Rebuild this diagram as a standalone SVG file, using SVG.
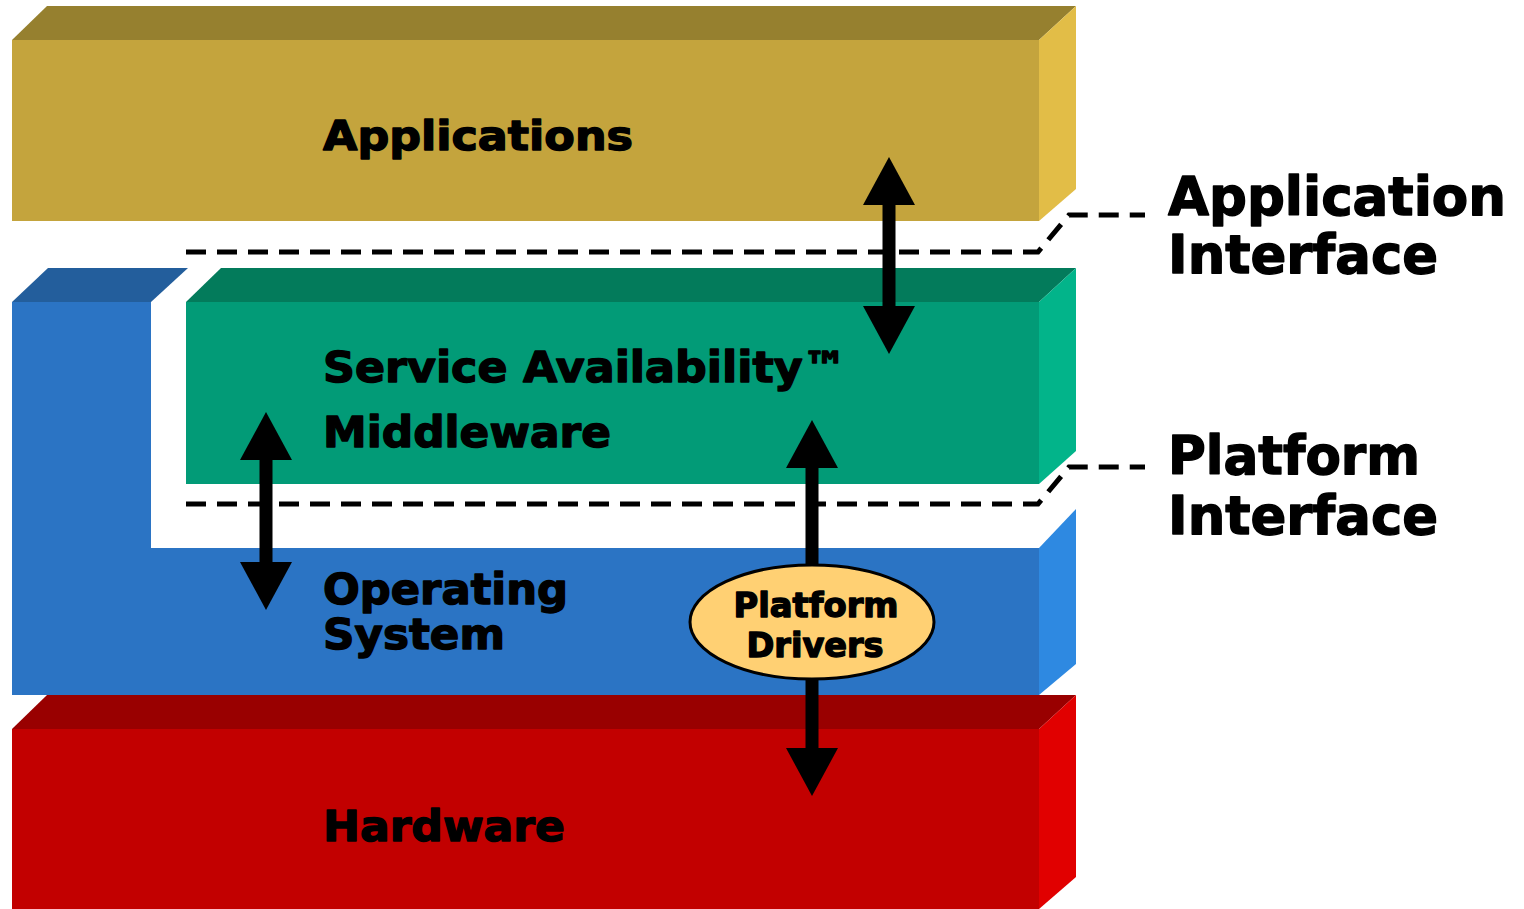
<svg xmlns="http://www.w3.org/2000/svg" width="1524" height="909" viewBox="0 0 1524 909">
<style>
.t{font-family:"DejaVu Sans","Liberation Sans",sans-serif;font-weight:bold;fill:#000;stroke:#000;stroke-width:1.4;stroke-linejoin:round}
.dash{fill:none;stroke:#000;stroke-width:5;stroke-dasharray:20 11}
.shaft{stroke:#000;stroke-width:13;fill:none}
</style>
<defs>
<marker id="ah" viewBox="0 0 48 52" refX="8" refY="26" markerWidth="48" markerHeight="52" orient="auto-start-reverse" markerUnits="userSpaceOnUse">
<path d="M0,0 L48,26 L0,52 Z" fill="#000"/>
</marker>
</defs>
<rect width="1524" height="909" fill="#fff"/>
<g id="applications">
<polygon points="12,40 47,6 1076,6 1039,40" fill="#96802F"/>
<polygon points="1039,40 1076,6 1076,189 1039,221" fill="#E2BD47"/>
<rect x="12" y="40" width="1027" height="181" fill="#C4A43D"/>
<text class="t" x="323" y="150" font-size="41" textLength="310" lengthAdjust="spacingAndGlyphs">Applications</text>
</g>
<g id="middleware">
<polygon points="186,302 221,268 1076,268 1039,302" fill="#037B5B"/>
<polygon points="1039,302 1076,268 1076,451 1039,484" fill="#02B48A"/>
<rect x="186" y="302" width="853" height="182" fill="#029B77"/>
<text class="t" x="323" y="382" font-size="43" textLength="524" lengthAdjust="spacingAndGlyphs">Service Availability™</text>
<text class="t" x="323" y="447" font-size="43" textLength="288" lengthAdjust="spacingAndGlyphs">Middleware</text>
</g>
<g id="os">
<polygon points="12,302 48,268 188,268 151,302" fill="#235E9C"/>
<polygon points="1039,548 1076,509 1076,664 1039,695" fill="#2E89E1"/>
<polygon points="12,302 151,302 151,548 1039,548 1039,695 12,695" fill="#2B74C4"/>
<text class="t" x="323" y="604" font-size="43" textLength="245" lengthAdjust="spacingAndGlyphs">Operating</text>
<text class="t" x="323" y="649" font-size="43" textLength="182" lengthAdjust="spacingAndGlyphs">System</text>
</g>
<g id="hardware">
<polygon points="12,729 47,695 1076,695 1039,729" fill="#990000"/>
<polygon points="1039,729 1076,695 1076,877 1039,909" fill="#E10000"/>
<rect x="12" y="729" width="1027" height="180" fill="#C20000"/>
<text class="t" x="323" y="841" font-size="43" textLength="242" lengthAdjust="spacingAndGlyphs">Hardware</text>
</g>
<g id="connectors">
<path class="dash" d="M186,252 H1038 L1069,215 H1145"/>
<path class="dash" d="M186,504 H1038 L1069,467 H1145"/>
<line class="shaft" x1="889" y1="197" x2="889" y2="314" marker-start="url(#ah)" marker-end="url(#ah)"/>
<line class="shaft" x1="266" y1="452" x2="266" y2="570" marker-start="url(#ah)" marker-end="url(#ah)"/>
<line class="shaft" x1="812" y1="460" x2="812" y2="600" marker-start="url(#ah)"/>
<line class="shaft" x1="812" y1="650" x2="812" y2="756" marker-end="url(#ah)"/>
</g>
<g id="platform-drivers">
<ellipse cx="812" cy="622" rx="122" ry="57" fill="#FFD073" stroke="#000" stroke-width="3"/>
<text class="t" x="816" y="617" font-size="33" text-anchor="middle" textLength="165" lengthAdjust="spacingAndGlyphs">Platform</text>
<text class="t" x="815" y="657" font-size="33" text-anchor="middle" textLength="137" lengthAdjust="spacingAndGlyphs">Drivers</text>
</g>
<g id="application-interface">
<text class="t" x="1168" y="215" font-size="53" textLength="338" lengthAdjust="spacingAndGlyphs">Application</text>
<text class="t" x="1168" y="273" font-size="53" textLength="270" lengthAdjust="spacingAndGlyphs">Interface</text>
</g>
<g id="platform-interface">
<text class="t" x="1168" y="474" font-size="53" textLength="252" lengthAdjust="spacingAndGlyphs">Platform</text>
<text class="t" x="1168" y="534" font-size="53" textLength="270" lengthAdjust="spacingAndGlyphs">Interface</text>
</g>
</svg>
